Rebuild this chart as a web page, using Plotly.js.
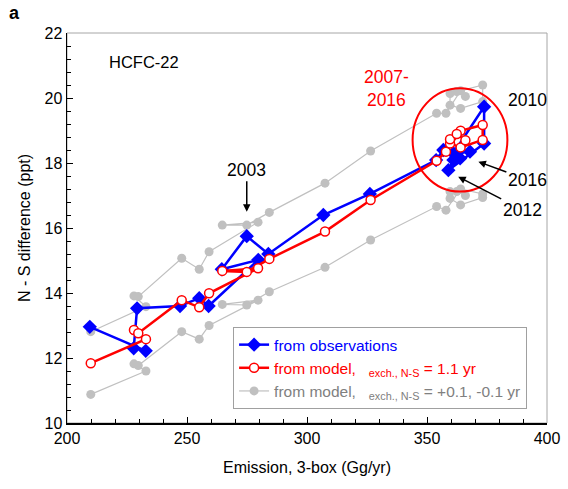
<!DOCTYPE html>
<html><head><meta charset="utf-8">
<script src="https://cdn.plot.ly/plotly-3.0.1.min.js"></script>
<style>html,body{margin:0;padding:0;background:#fff}#chart{width:568px;height:489px}</style>
</head><body><div id="chart"></div>
<script>
const years = [1994,1995,1996,1997,1998,1999,2000,2001,2002,2003,2004,2005,2006,2007,2008,2009,2010,2011,2012,2013,2014,2015,2016];
const obsEmission = [209.5,232.8,227.8,229.2,247.1,255.1,259.0,279.7,264.5,274.9,283.9,306.8,326.2,353.8,356.8,361.0,373.8,373.8,358.9,361.0,363.8,362.4,367.9];
const obsDiff = [12.96,12.22,12.30,13.53,13.60,13.84,13.60,15.02,14.73,15.75,15.20,16.40,17.05,18.09,18.40,18.30,19.73,18.60,17.78,18.09,18.14,18.30,18.35];
const modelEmission = [209.9,232.9,227.9,229.7,247.8,255.1,259.2,279.6,264.7,274.9,284.3,307.5,326.5,354.0,357.9,364.0,373.2,373.2,364.0,359.6,359.6,362.4,366.0];
const modelDiff = [11.84,12.58,12.86,12.76,13.78,13.56,13.99,14.76,14.68,14.65,15.05,15.89,16.86,18.07,18.35,18.99,19.17,18.71,18.48,18.60,18.73,18.89,18.70];
const modelPlusDiff = [12.81,13.58,13.91,13.89,15.07,14.73,15.27,16.18,16.09,16.09,16.48,17.38,18.37,19.53,19.53,20.22,20.40,19.89,19.68,19.78,20.14,20.20,20.05];
const modelMinusDiff = [10.88,11.60,11.82,11.77,12.81,12.58,13.00,13.78,13.65,13.63,14.04,14.79,15.63,16.66,16.55,17.20,17.05,16.94,16.71,16.91,17.12,17.12,17.00];

const FONT = 'Arial, "Liberation Sans", sans-serif';
const NB = '\u00a0';
const gray = '#c0c0c0';

const traces = [
  {x: modelEmission, y: modelPlusDiff, text: years, mode: 'lines+markers', type: 'scatter',
   line: {color: gray, width: 1.2}, marker: {symbol: 'circle', size: 9, color: gray},
   name: '<span style="color:#808080">from model,' + NB.repeat(3) + '<sub>exch., N-S</sub> = +0.1, -0.1 yr</span>',
   showlegend: true, legendrank: 3},
  {x: modelEmission, y: modelMinusDiff, text: years, mode: 'lines+markers', type: 'scatter',
   line: {color: gray, width: 1.2}, marker: {symbol: 'circle', size: 9, color: gray},
   name: 'minus', showlegend: false},
  {x: obsEmission, y: obsDiff, text: years, mode: 'lines+markers', type: 'scatter',
   line: {color: '#0000ff', width: 2.5}, marker: {symbol: 'diamond', size: 11, color: '#0000ff'},
   name: '<span style="color:#0000ff">from observations</span>', legendrank: 1},
  {x: modelEmission, y: modelDiff, text: years, mode: 'lines+markers', type: 'scatter',
   line: {color: '#ff0000', width: 2.5}, marker: {symbol: 'circle', size: 9, color: '#ffffff', line: {color: '#ff0000', width: 1.5}},
   name: '<span style="color:#ff0000">from model,' + NB.repeat(3) + '<sub>exch., N-S</sub> = 1.1 yr</span>', legendrank: 2}
];

const layout = {
  width: 568, height: 489,
  margin: {l: 67, r: 21, t: 33, b: 66},
  paper_bgcolor: '#ffffff', plot_bgcolor: '#ffffff',
  font: {family: FONT, size: 16, color: '#000'},
  showlegend: true,
  legend: {x: 0.346, y: 0.246, xanchor: 'left', yanchor: 'top', bgcolor: '#ffffff',
           bordercolor: '#a0a0a0', borderwidth: 1, font: {family: FONT, size: 15.5}, tracegroupgap: 0},
  xaxis: {range: [200, 400], dtick: 50, tick0: 200, ticks: 'inside', ticklen: 6, tickwidth: 1, tickcolor: '#000',
          showline: true, linecolor: '#000', linewidth: 1.5, showgrid: false, zeroline: false,
          tickfont: {size: 16}, minor: {dtick: 10, ticks: 'inside', ticklen: 4, tickcolor: '#000', showgrid: false},
          title: {text: 'Emission, 3-box (Gg/yr)', font: {size: 16}, standoff: 16}},
  yaxis: {range: [10, 22], dtick: 2, tick0: 10, ticks: 'inside', ticklen: 6, tickwidth: 1, tickcolor: '#000',
          showline: true, linecolor: '#000', linewidth: 1.5, showgrid: false, zeroline: false,
          tickfont: {size: 16}, minor: {dtick: 0.4, ticks: 'inside', ticklen: 4, tickcolor: '#000', showgrid: false},
          title: {text: 'N - S difference (ppt)', font: {size: 16}, standoff: 10}},
  shapes: [
    {type: 'rect', xref: 'paper', yref: 'paper', x0: 0, x1: 1, y0: 0, y1: 1, line: {color: '#a6a6a6', width: 1}, layer: 'below'},
    {type: 'circle', xref: 'x', yref: 'y', x0: 344.0, x1: 383.5, y0: 17.12, y1: 20.3, line: {color: '#ff0000', width: 2}, layer: 'above'}
  ],
  annotations: [
    {xref: 'paper', yref: 'paper', x: -0.125, y: 1.05, xanchor: 'left', yanchor: 'middle', text: '<b>a</b>', showarrow: false, font: {size: 18}},
    {xref: 'x', yref: 'y', x: 232, y: 21.1, text: 'HCFC-22', showarrow: false, font: {size: 16.5}},
    {xref: 'x', yref: 'y', x: 333.2, y: 20.28, text: '2007-<br>2016', showarrow: false, font: {size: 17.5, color: '#ff0000'}, align: 'center'},
    {xref: 'x', yref: 'y', x: 391.8, y: 19.93, text: '2010', showarrow: false, font: {size: 17.5}},
    {xref: 'x', yref: 'y', x: 274.9, y: 16.5, text: '2003', showarrow: true, ax: 0, ay: -42, arrowhead: 2, arrowsize: 1, arrowwidth: 1.5, arrowcolor: '#000', font: {size: 17.5}},
    {xref: 'x', yref: 'y', x: 371.4, y: 18.04, text: '2016', showarrow: true, ax: 49, ay: 18, arrowhead: 2, arrowsize: 1, arrowwidth: 1.5, arrowcolor: '#000', font: {size: 17.5}},
    {xref: 'x', yref: 'y', x: 363.0, y: 17.58, text: '2012', showarrow: true, ax: 64, ay: 33, arrowhead: 2, arrowsize: 1, arrowwidth: 1.5, arrowcolor: '#000', font: {size: 17.5}}
  ]
};

Plotly.newPlot('chart', traces, layout, {displayModeBar: false, staticPlot: true});
</script></body></html>
